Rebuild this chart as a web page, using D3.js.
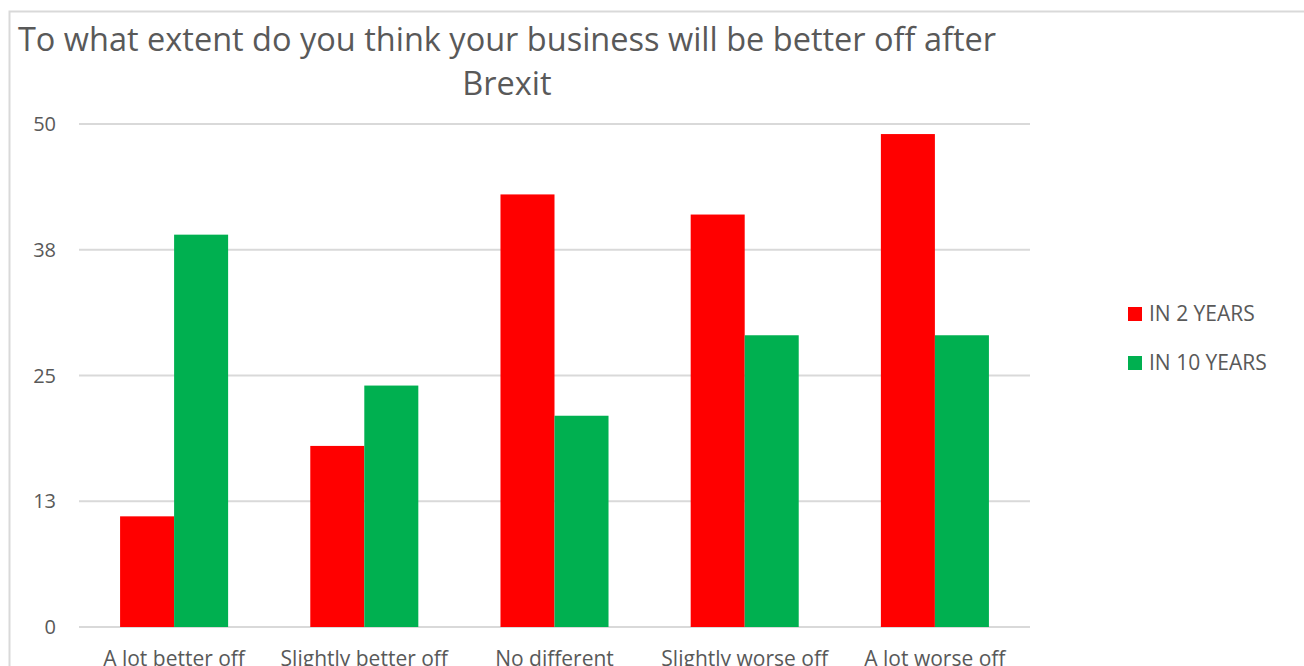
<!DOCTYPE html>
<html>
<head>
<meta charset="utf-8">
<script src="https://cdn.jsdelivr.net/npm/d3@7"></script>
<style>
  body { margin: 0; background: #fff; }
  text { font-family: "Open Sans", sans-serif; fill: #595959; }
</style>
</head>
<body>
<div id="chart"></div>
<script>
// chart data
const categories = ["A lot better off", "Slightly better off", "No different", "Slightly worse off", "A lot worse off"];
const seriesNames = ["IN 2 YEARS", "IN 10 YEARS"];
const in2Years = [11, 18, 43, 41, 49];
const in10Years = [39, 24, 21, 29, 29];
const tickValues = [0, 12.5, 25, 37.5, 50];
const tickLabels = ["0", "13", "25", "38", "50"];
const colors = ["#ff0000", "#00b050"];

const W = 1304, H = 666;
const margin = {top: 124, left: 79, right: 274, bottom: 39};
const width = W - margin.left - margin.right,
      height = H - margin.top - margin.bottom;

const svg = d3.select("#chart").append("svg")
    .attr("width", W)
    .attr("height", H);

// outer frame
svg.append("rect")
    .attr("x", 9.5).attr("y", 11.5)
    .attr("width", W + 20).attr("height", H + 20)
    .attr("fill", "none")
    .attr("stroke", "#d9d9d9")
    .attr("stroke-width", 2);

// title
const title = svg.append("text")
    .attr("text-anchor", "middle")
    .style("font-size", "32.5px");
title.append("tspan").attr("x", 507).attr("y", 51)
    .text("To what extent do you think your business will be better off after");
title.append("tspan").attr("x", 507).attr("y", 95).text("Brexit");

const g = svg.append("g")
    .attr("transform", "translate(" + margin.left + "," + margin.top + ")");

const x0 = d3.scaleBand()
    .domain(categories)
    .range([0, width])
    .paddingInner(0.432)
    .paddingOuter(0.216);

const x1 = d3.scaleBand()
    .domain(seriesNames)
    .range([0, x0.bandwidth()]);

const y = d3.scaleLinear()
    .domain([0, 50])
    .range([height, 0]);

// gridlines
g.append("g")
    .selectAll("line")
    .data(tickValues)
    .join("line")
    .attr("x1", 0).attr("x2", width)
    .attr("y1", d => y(d)).attr("y2", d => y(d))
    .attr("stroke", "#d9d9d9")
    .attr("stroke-width", 2);

// y axis labels
g.append("g")
    .selectAll("text")
    .data(tickValues)
    .join("text")
    .attr("x", -23)
    .attr("y", d => y(d) + 7)
    .attr("text-anchor", "end")
    .style("font-size", "20px")
    .text((d, i) => tickLabels[i]);

// bars
const rows = categories.map((c, i) => ({cat: c, vals: [in2Years[i], in10Years[i]]}));
const groups = g.selectAll(".grp")
    .data(rows)
    .join("g")
    .attr("class", "grp")
    .attr("transform", d => "translate(" + x0(d.cat) + ",0)");

groups.selectAll("rect")
    .data(d => d.vals.map((v, k) => ({name: seriesNames[k], v: v, k: k})))
    .join("rect")
    .attr("x", d => x1(d.name))
    .attr("y", d => y(d.v))
    .attr("width", x1.bandwidth())
    .attr("height", d => height - y(d.v))
    .attr("fill", d => colors[d.k]);

// x labels
g.append("g")
    .selectAll("text")
    .data(categories)
    .join("text")
    .attr("x", d => x0(d) + x0.bandwidth() / 2)
    .attr("y", height + 39)
    .attr("text-anchor", "middle")
    .style("font-size", "21px")
    .text(d => d);

// legend
const legend = svg.append("g")
    .selectAll("g")
    .data(seriesNames)
    .join("g")
    .attr("transform", (d, i) => "translate(1128," + (307 + i * 49) + ")");
legend.append("rect")
    .attr("width", 14).attr("height", 14)
    .attr("fill", (d, i) => colors[i]);
legend.append("text")
    .attr("x", 21).attr("y", 14)
    .style("font-size", "21px")
    .text(d => d);
</script>
</body>
</html>
